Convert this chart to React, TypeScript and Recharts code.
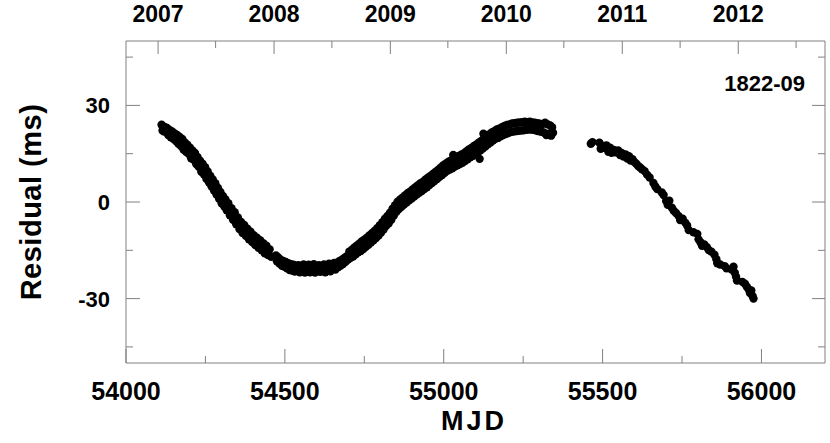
import React from "react";
import { ScatterChart, Scatter, XAxis, YAxis } from "recharts";

// timing residuals, [MJD, residual ms]
const descent2007: [number, number][] = [
  [54112, 24.0], [54115, 22.2], [54117, 23.5], [54120, 21.9], [54123, 23.2], [54126, 22.0], [54129, 23.0],
  [54133, 20.8], [54137, 22.4], [54141, 20.1], [54145, 21.9], [54149, 19.6], [54153, 21.3], [54157, 18.9],
  [54161, 20.8], [54165, 18.1], [54169, 20.2], [54173, 17.4], [54177, 19.6], [54181, 16.3], [54185, 18.5],
  [54189, 15.6], [54193, 17.8], [54197, 15.0], [54201, 16.9], [54205, 13.6], [54209, 16.0], [54213, 13.1],
  [54217, 15.2], [54221, 11.8], [54225, 14.0], [54229, 10.9], [54233, 12.8], [54237, 9.4], [54241, 11.9],
  [54245, 8.6], [54249, 10.8], [54253, 7.2], [54257, 9.5], [54261, 6.1], [54265, 8.2], [54269, 4.9],
  [54273, 7.0], [54277, 3.6], [54281, 5.8], [54285, 2.3], [54289, 4.4], [54293, 1.0], [54297, 3.1],
  [54301, -0.4], [54305, 1.9], [54309, -1.3], [54313, 0.8], [54317, -2.6], [54322, -0.4], [54327, -4.1],
  [54332, -1.9], [54337, -5.5], [54342, -3.2], [54347, -6.9], [54352, -4.8], [54357, -8.4], [54362, -6.2],
  [54367, -9.6], [54372, -7.1], [54377, -10.5], [54382, -8.3], [54387, -11.6], [54392, -9.2], [54397, -12.4],
  [54402, -10.3], [54407, -13.4], [54412, -11.1], [54417, -14.2], [54422, -11.9], [54427, -15.0], [54432, -12.8],
  [54437, -15.9], [54442, -13.6], [54447, -16.5], [54452, -14.7], [54457, -17.0],
];

const trough2008: [number, number][] = [
  [54472, -16.6], [54475, -18.4], [54479, -17.2], [54483, -19.1], [54487, -17.9], [54491, -19.8], [54495, -18.3],
  [54499, -20.1], [54503, -18.6], [54507, -20.6], [54511, -19.0], [54515, -21.1], [54519, -19.3], [54523, -21.3],
  [54527, -19.5], [54531, -21.6], [54535, -19.8], [54539, -21.4], [54543, -19.6], [54547, -21.8], [54551, -20.0],
  [54555, -21.5], [54559, -19.4], [54563, -21.9], [54567, -20.2], [54571, -21.3], [54575, -19.5], [54579, -21.8],
  [54583, -20.1], [54587, -21.6], [54591, -19.3], [54595, -21.9], [54599, -20.4], [54603, -21.2], [54607, -19.6],
  [54611, -21.7], [54615, -20.0], [54619, -21.4], [54623, -19.4], [54627, -21.8], [54631, -20.3], [54635, -21.1],
  [54639, -19.2], [54643, -21.5], [54647, -19.9], [54651, -20.8], [54655, -18.9], [54659, -21.0], [54663, -19.1],
  [54667, -20.3], [54671, -18.4], [54675, -19.8], [54679, -17.9], [54683, -19.3], [54687, -17.4], [54691, -18.6],
  [54695, -16.8], [54699, -17.9],
];

const rise2009: [number, number][] = [
  [54703, -15.4], [54707, -17.3], [54711, -14.8], [54715, -16.9], [54719, -14.1], [54723, -16.2], [54727, -13.5],
  [54731, -15.6], [54735, -12.9], [54739, -15.2], [54743, -12.2], [54747, -14.6], [54751, -11.6], [54755, -13.9],
  [54759, -11.0], [54763, -13.3], [54767, -10.3], [54771, -12.6], [54775, -9.6], [54779, -11.9], [54783, -8.9],
  [54787, -11.2], [54791, -8.1], [54795, -10.4], [54799, -7.2], [54803, -9.5], [54807, -6.3], [54811, -8.5],
  [54815, -5.2], [54819, -7.4], [54823, -4.3], [54827, -6.6], [54831, -3.3], [54835, -5.5], [54839, -2.1],
  [54843, -4.2], [54847, -1.0], [54851, -3.0], [54855, 0.1], [54859, -2.2], [54863, 0.8], [54867, -1.5],
  [54871, 1.4], [54875, -0.8], [54879, 2.1], [54883, -0.2], [54887, 2.8], [54891, 0.5], [54895, 3.3],
  [54899, 1.1], [54903, 4.0], [54907, 1.7], [54911, 4.6], [54915, 2.3], [54919, 5.2], [54923, 2.9],
  [54927, 5.8], [54931, 3.4], [54935, 6.3], [54939, 4.0], [54943, 7.0], [54947, 4.6], [54951, 7.6],
  [54955, 5.3], [54959, 8.2], [54963, 5.9], [54967, 8.8], [54971, 6.5], [54975, 9.4], [54979, 7.1],
  [54983, 10.0], [54987, 7.8], [54991, 10.7], [54995, 8.4], [54999, 11.4], [55003, 9.1], [55007, 12.0],
  [55011, 9.7], [55015, 12.5], [55019, 10.1], [55023, 12.9], [55027, 10.5], [55030, 14.6], [55031, 13.3],
  [55035, 11.0], [55039, 13.8], [55043, 11.4], [55047, 14.3], [55051, 11.8], [55055, 14.7], [55059, 12.2],
  [55063, 15.1], [55067, 12.7], [55071, 15.7], [55075, 13.3], [55079, 16.3], [55083, 13.9], [55087, 16.8],
  [55091, 14.3], [55095, 17.4], [55099, 14.9], [55103, 17.9], [55107, 15.5], [55111, 18.5], [55113, 13.4],
  [55115, 16.0], [55119, 19.0], [55123, 16.6], [55125, 21.2], [55127, 19.7], [55131, 17.2], [55135, 20.4],
  [55139, 17.9], [55143, 21.0], [55147, 18.5], [55151, 21.6], [55155, 19.1], [55159, 22.0], [55163, 19.6],
  [55167, 22.5], [55171, 19.9], [55175, 22.8], [55179, 20.4], [55183, 23.2], [55187, 20.8], [55191, 23.6],
  [55195, 21.1], [55199, 23.9], [55203, 21.4], [55207, 24.1], [55211, 21.7], [55215, 24.4], [55219, 21.9],
  [55223, 24.5], [55227, 22.0], [55231, 24.6], [55235, 22.1], [55239, 24.7], [55243, 22.2], [55247, 24.8],
  [55251, 22.3], [55255, 24.9], [55259, 22.4], [55263, 24.8], [55267, 22.5], [55271, 24.9], [55275, 22.5],
  [55279, 24.7], [55283, 22.4], [55287, 24.6], [55291, 22.2], [55295, 24.5], [55299, 22.0], [55303, 24.3],
  [55307, 21.8], [55311, 24.2], [55315, 21.6], [55319, 24.6], [55323, 20.8], [55327, 24.1], [55331, 21.2],
  [55335, 23.8], [55338, 20.6], [55341, 23.2], [55344, 21.5],
];

const tail2011: [number, number][] = [
  [55463, 18.1], [55468, 18.6], [55490, 18.4], [55494, 16.5], [55497, 17.4], [55505, 16.8], [55512, 17.6],
  [55518, 15.6], [55523, 16.9], [55528, 15.3], [55535, 16.2], [55542, 15.4], [55549, 16.0], [55555, 14.6],
  [55560, 15.2], [55566, 14.1], [55572, 14.8], [55578, 13.5], [55583, 14.2], [55588, 12.9], [55594, 13.3],
  [55600, 12.4], [55606, 11.9], [55612, 11.2], [55618, 10.7], [55624, 10.2], [55632, 9.6], [55640, 8.5],
  [55648, 7.6], [55660, 5.9], [55666, 4.8], [55672, 4.0], [55686, 3.0], [55692, 2.2], [55700, 0.3],
  [55705, -0.9], [55710, 0.4], [55718, -1.8], [55724, -2.7], [55731, -3.4], [55739, -4.3], [55744, -5.6],
  [55752, -5.2], [55760, -6.4], [55766, -7.3], [55771, -8.7], [55786, -9.4], [55798, -9.9], [55802, -11.6],
  [55808, -12.5], [55813, -13.6], [55820, -13.2], [55828, -14.0], [55834, -14.9], [55842, -15.4], [55852, -16.4],
  [55858, -17.8], [55861, -19.0], [55870, -19.4], [55884, -19.9], [55890, -20.6], [55906, -21.0], [55912, -20.1],
  [55916, -22.0], [55920, -23.2], [55923, -24.4], [55940, -24.8], [55948, -25.4], [55954, -26.3], [55960, -27.2],
  [55964, -28.3], [55968, -27.5], [55972, -29.2], [55975, -30.0],
];

const mjdTicks = [54000, 54250, 54500, 54750, 55000, 55250, 55500, 55750, 56000];
const resTicks = [-45, -30, -15, 0, 15, 30, 45];
const yearMjd = [54101, 54466, 54832, 55197, 55562, 55927];
const yearLabels = ["2007", "2008", "2009", "2010", "2011", "2012"];
const halfYearMjd = [54282, 54648, 55013, 55378, 55744, 56109];
const topTicks = [...yearMjd, ...halfYearMjd].sort((a, b) => a - b);

const AXIS = "#808080";
const FONT = '"Liberation Sans", Arial, Helvetica, sans-serif';

const toPts = (arr: [number, number][]) => arr.map(([mjd, res]) => ({ mjd, res }));
const allPts = [...toPts(descent2007), ...toPts(trough2008), ...toPts(rise2009), ...toPts(tail2011)];

const Dot = (p: any) => <circle cx={p.cx} cy={p.cy} r={4.2} fill="#000" />;
const NoDot = () => <g />;

const BottomTick = ({ x, y, payload }: any) => {
  const major = payload.value % 500 === 0;
  return (
    <g>
      <line x1={x} x2={x} y1={y} y2={y - (major ? 14 : 7)} stroke={AXIS} />
      {major && (
        <text x={x} y={y + 37} textAnchor="middle" fontFamily={FONT} fontWeight="bold" fontSize={25} fill="#000">
          {payload.value}
        </text>
      )}
    </g>
  );
};

const TopTick = ({ x, y, payload }: any) => {
  const i = yearMjd.indexOf(payload.value);
  return (
    <g>
      <line x1={x} x2={x} y1={y} y2={y + (i >= 0 ? 13 : 7)} stroke={AXIS} />
      {i >= 0 && (
        <text x={x} y={y - 19} textAnchor="middle" fontFamily={FONT} fontWeight="bold" fontSize={23} fill="#000">
          {yearLabels[i]}
        </text>
      )}
    </g>
  );
};

const LeftTick = ({ x, y, payload }: any) => {
  const major = payload.value % 30 === 0;
  return (
    <g>
      <line x1={x} x2={x + (major ? 14 : 7)} y1={y} y2={y} stroke={AXIS} />
      {major && (
        <text x={x - 16} y={y + 8} textAnchor="end" fontFamily={FONT} fontWeight="bold" fontSize={22} fill="#000">
          {payload.value}
        </text>
      )}
    </g>
  );
};

const RightTick = ({ x, y, payload }: any) => {
  const major = payload.value % 30 === 0;
  return <line x1={x} x2={x - (major ? 13 : 7)} y1={y} y2={y} stroke={AXIS} />;
};

export default function App() {
  return (
    <div style={{ position: "absolute", left: 0, top: 0, width: 830, height: 443, background: "#fff" }}>
      <ScatterChart width={830} height={443} margin={{ top: 0, right: 0, bottom: 0, left: 0 }}>
        <XAxis
          xAxisId="bottom"
          dataKey="mjd"
          type="number"
          orientation="bottom"
          domain={[54000, 56200]}
          ticks={mjdTicks}
          interval={0}
          height={80}
          tickSize={0}
          tickMargin={0}
          tickLine={false}
          axisLine={{ stroke: AXIS }}
          tick={<BottomTick />}
          allowDataOverflow
        />
        <XAxis
          xAxisId="top"
          dataKey="mjd"
          type="number"
          orientation="top"
          domain={[54000, 56200]}
          ticks={topTicks}
          interval={0}
          height={41}
          tickSize={0}
          tickMargin={0}
          tickLine={false}
          axisLine={{ stroke: AXIS }}
          tick={<TopTick />}
          allowDataOverflow
        />
        <YAxis
          yAxisId="left"
          dataKey="res"
          type="number"
          domain={[-50, 50]}
          ticks={resTicks}
          interval={0}
          width={126}
          tickSize={0}
          tickMargin={0}
          tickLine={false}
          axisLine={{ stroke: AXIS }}
          tick={<LeftTick />}
          allowDataOverflow
        />
        <YAxis
          yAxisId="right"
          dataKey="res"
          orientation="right"
          type="number"
          domain={[-50, 50]}
          ticks={resTicks}
          interval={0}
          width={5}
          tickSize={0}
          tickMargin={0}
          tickLine={false}
          axisLine={{ stroke: AXIS }}
          tick={<RightTick />}
          allowDataOverflow
        />
        <Scatter
          xAxisId="bottom"
          yAxisId="left"
          data={allPts}
          shape={Dot}
          isAnimationActive={false}
        />
        {/* same points on the top/right frame axes so they get ticks; drawn invisible */}
        <Scatter
          xAxisId="top"
          yAxisId="right"
          data={allPts}
          shape={NoDot}
          legendType="none"
          isAnimationActive={false}
        />
      </ScatterChart>
      <svg width={830} height={443} style={{ position: "absolute", left: 0, top: 0, pointerEvents: "none" }}>
        <text x={474} y={430} textAnchor="middle" fontFamily={FONT} fontWeight="bold" fontSize={27} letterSpacing={3} fill="#000">
          MJD
        </text>
        <text
          x={41}
          y={202}
          transform="rotate(-90, 41, 202)"
          textAnchor="middle"
          fontFamily={FONT}
          fontWeight="bold"
          fontSize={29}
          letterSpacing={0.5}
          fill="#000"
        >
          Residual (ms)
        </text>
        <text x={805} y={91} textAnchor="end" fontFamily={FONT} fontWeight="bold" fontSize={22} fill="#000">
          1822-09
        </text>
      </svg>
    </div>
  );
}
